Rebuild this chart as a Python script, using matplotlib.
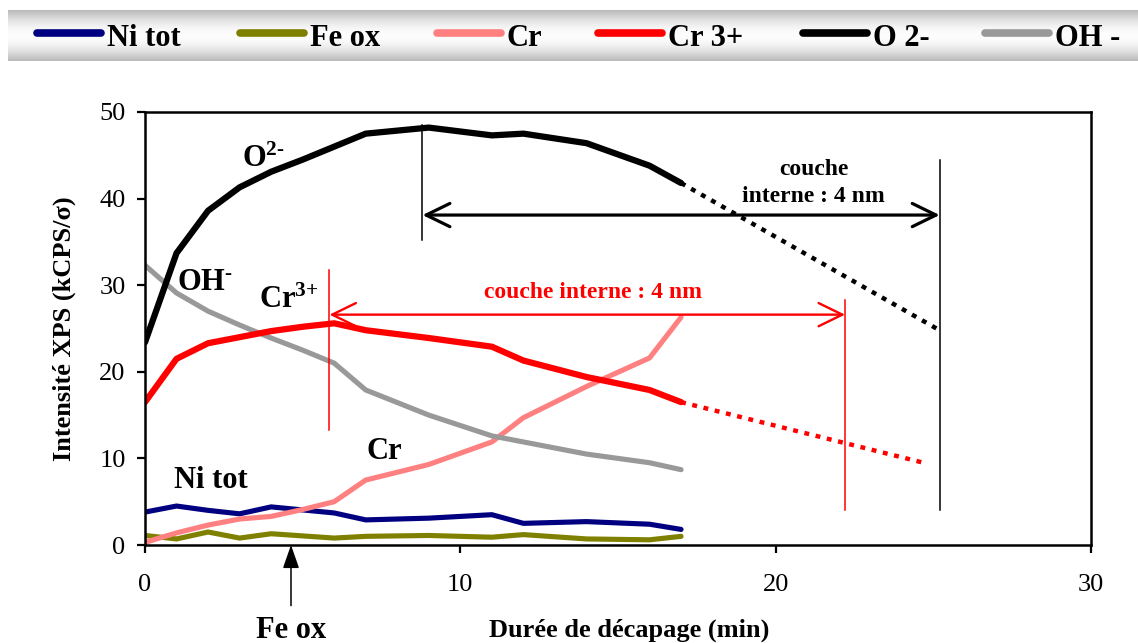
import numpy as np
import matplotlib.pyplot as plt

plt.rcParams['font.family'] = ['Liberation Serif', 'DejaVu Serif']
plt.rcParams['mathtext.fontset'] = 'custom'
plt.rcParams['mathtext.rm'] = 'Liberation Serif:bold'
plt.rcParams['mathtext.bf'] = 'Liberation Serif:bold'
plt.rcParams['mathtext.it'] = 'Liberation Serif:bold'

# temps de décapage (min)
t = [0, 1, 2, 3, 4, 5, 6, 7, 9, 11, 12, 14, 16, 17]
t_ni = [0, 1, 2, 3, 4, 6, 7, 9, 11, 12, 14, 16, 17]

o2 = [23.4, 33.7, 38.6, 41.3, 43.1, 44.5, 46.0, 47.5, 48.2, 47.3, 47.5, 46.4, 43.8, 41.8]
oh = [32.3, 29.1, 27.0, 25.4, 23.9, 22.5, 21.0, 17.9, 15.0, 12.6, 11.9, 10.5, 9.5, 8.7]
cr3 = [16.5, 21.5, 23.3, 24.0, 24.7, 25.2, 25.6, 24.8, 23.9, 22.9, 21.3, 19.4, 17.9, 16.5]
cr = [0.3, 1.4, 2.3, 3.0, 3.3, 4.1, 5.0, 7.5, 9.3, 11.9, 14.7, 18.3, 21.6, 26.3]
ni = [3.8, 4.5, 4.0, 3.6, 4.4, 3.7, 2.9, 3.1, 3.5, 2.5, 2.7, 2.4, 1.8]
fe = [1.1, 0.7, 1.5, 0.8, 1.3, 0.8, 1.0, 1.1, 0.9, 1.2, 0.7, 0.6, 1.0]

# extrapolations (pointillés)
o2_ext_t = [17, 25.1]
o2_ext = [41.8, 25.0]
cr3_ext_t = [17, 24.8]
cr3_ext = [16.5, 9.4]

legend_names = ['Ni tot', 'Fe ox', 'Cr', 'Cr 3+', 'O 2-', 'OH -']
colors = ['#000080', '#808000', '#ff8080', '#ff0000', '#000000', '#999999']

fig = plt.figure(figsize=(11.38, 6.43), dpi=100)

# bandeau de légende
lax = fig.add_axes([8 / 1138, 1 - 61 / 643, 1130 / 1138, 51 / 643])
g = np.linspace(0, 1, 100)
grad = 0.73 + 0.26 * np.sin(np.pi * g)
lax.imshow(grad[:, None], cmap='gray', vmin=0, vmax=1, aspect='auto',
           extent=[0, 1, 0, 1], interpolation='bicubic')
lax.set_xlim(0, 1)
lax.set_ylim(0, 1)
lax.axis('off')
starts = [37, 240, 437, 598, 803, 985]
for x0, name, c in zip(starts, legend_names, colors):
    a = (x0 - 8) / 1130
    b = (x0 + 64 - 8) / 1130
    lax.plot([a, b], [0.55, 0.55], color=c, lw=5.5, solid_capstyle='round')
    lax.text(b + 0.005, 0.44, name, fontsize=22, fontweight='bold', va='center', ha='left')

ax = fig.add_axes([145 / 1138, 1 - 545 / 643, 946 / 1138, 433 / 643])

ax.plot(t_ni, fe, color=colors[1], lw=3.7, solid_capstyle='round')
ax.plot(t_ni, ni, color=colors[0], lw=3.7, solid_capstyle='round')
ax.plot(t, cr, color=colors[2], lw=3.7, solid_capstyle='round')
ax.plot(t, oh, color=colors[5], lw=3.7, solid_capstyle='round')
ax.plot(t, cr3, color=colors[3], lw=4.5, solid_capstyle='round')
ax.plot(t, o2, color=colors[4], lw=4.5, solid_capstyle='round')
ax.plot(o2_ext_t, o2_ext, color='k', lw=3.2, linestyle=(0, (1.1, 1.5)))
ax.plot(cr3_ext_t, cr3_ext, color='r', lw=3.2, linestyle=(0, (1.1, 1.5)))

ax.set_xlim(0, 30)
ax.set_ylim(0, 50)
ax.set_xticks([0, 10, 20, 30])
ax.set_yticks([0, 10, 20, 30, 40, 50])
for s in ax.spines.values():
    s.set_linewidth(1.8)
ax.tick_params(direction='out', length=6, width=1.6, labelsize=19)
ax.tick_params(axis='x', pad=15)
ax.tick_params(axis='y', pad=8)

ax.set_xlabel('Durée de décapage (min)', fontsize=19, fontweight='bold')
ax.set_ylabel('Intensité XPS (kCPS/σ)', fontsize=19, fontweight='bold')
ax.xaxis.label.set_va('center')
ax.yaxis.label.set_va('center')
ax.xaxis.set_label_coords(0.512, -0.196)
ax.yaxis.set_label_coords(-0.085, 0.5)

# couche interne O2-
ax.plot([8.8, 8.8], [35.2, 48.5], color='k', lw=1.1)
ax.plot([25.2, 25.2], [4.0, 44.5], color='k', lw=1.1)
ax.annotate('', xy=(8.8, 38.1), xytext=(25.2, 38.1),
            arrowprops=dict(arrowstyle='<->,head_length=0.45,head_width=0.22',
                            lw=2.3, color='k', mutation_scale=38, shrinkA=0, shrinkB=0))
ax.text(21.2, 41.8, 'couche\ninterne : 4 nm', fontsize=17, fontweight='bold',
        ha='center', va='center', linespacing=1.35)

# couche interne Cr3+
ax.plot([5.85, 5.85], [13.3, 31.8], color='r', lw=1.1)
ax.plot([22.2, 22.2], [4.0, 28.3], color='r', lw=1.1)
ax.annotate('', xy=(5.85, 26.6), xytext=(22.2, 26.6),
            arrowprops=dict(arrowstyle='<->,head_length=0.45,head_width=0.22',
                            lw=1.7, color='r', mutation_scale=38, shrinkA=0, shrinkB=0))
ax.text(14.2, 29.1, 'couche interne : 4 nm', fontsize=17, fontweight='bold',
        color='r', ha='center', va='center')

# étiquettes des courbes
lab = dict(fontsize=22, fontweight='bold', ha='center', va='center')
ax.text(3.75, 44.5, r'O$^{2\text{-}}$', **lab)
ax.text(1.9, 30.3, r'OH$^{\text{-}}$', **lab)
ax.text(4.55, 28.2, r'Cr$^{3\text{+}}$', **lab)
ax.text(7.6, 10.8, 'Cr', **lab)
ax.text(2.1, 7.4, 'Ni tot', **lab)

ax.annotate('', xy=(4.63, 0), xytext=(4.63, -7.0), annotation_clip=False,
            arrowprops=dict(arrowstyle='-|>,head_length=0.8,head_width=0.28',
                            lw=1.1, color='k', mutation_scale=18, shrinkA=0, shrinkB=0))
ax.text(4.63, -9.9, 'Fe ox', **lab)

plt.savefig('out.png', dpi=100)
